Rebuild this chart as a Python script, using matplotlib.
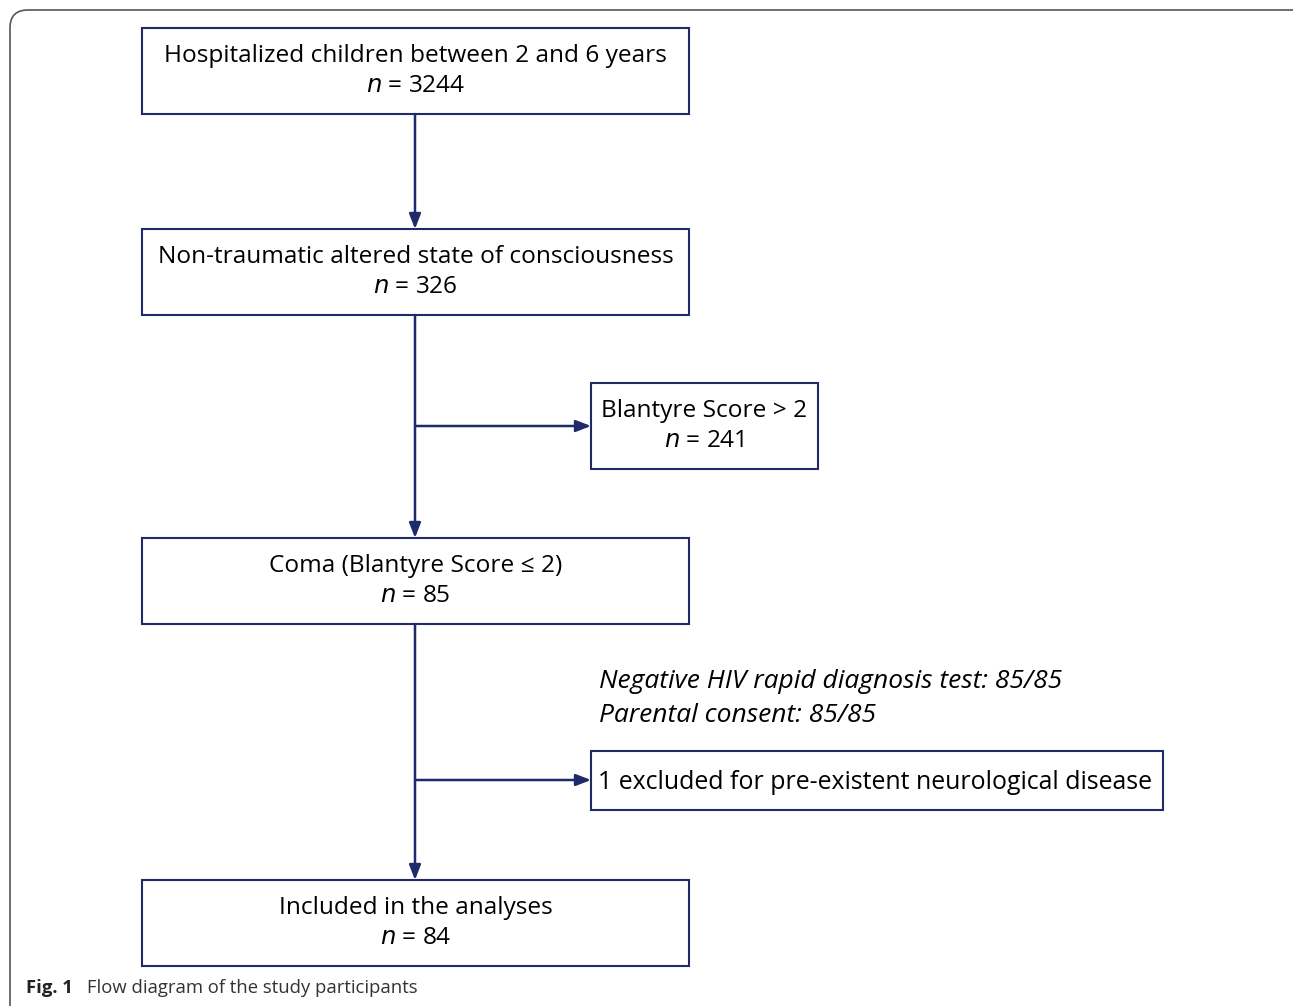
import matplotlib.pyplot as plt
from matplotlib.patches import Rectangle, FancyBboxPatch

# box geometry in picture pixels: (left, top, right, bottom)
boxes = [
    (142, 28, 689, 114),
    (142, 229, 689, 315),
    (591, 383, 818, 469),
    (142, 538, 689, 624),
    (591, 751, 1163, 810),
    (142, 880, 689, 966),
]
line1 = [
    "Hospitalized children between 2 and 6 years",
    "Non-traumatic altered state of consciousness",
    "Blantyre Score > 2",
    "Coma (Blantyre Score \u2264 2)",
    "1 excluded for pre-existent neurological disease",
    "Included in the analyses",
]
counts = ["3244", "326", "241", "85", None, "84"]
notes = ["Negative HIV rapid diagnosis test: 85/85", "Parental consent: 85/85"]

navy = "#1f2a6b"
font = "Open Sans"
fs = 17.6

fig = plt.figure(figsize=(12.93, 10.06), dpi=100)
ax = fig.add_axes([0, 0, 1, 1])
ax.set_xlim(0, 1293)
ax.set_ylim(1006, 0)
ax.axis("off")

# outer rounded frame
frame = FancyBboxPatch((10, 10), 1300, 1040, boxstyle="round,pad=0,rounding_size=18",
                       fill=False, ec="#555555", lw=1.2)
ax.add_patch(frame)

for (l, t, r, b), txt, n in zip(boxes, line1, counts):
    ax.add_patch(Rectangle((l, t), r - l, b - t, fill=False, ec=navy, lw=1.5))
    cx = (l + r) / 2
    if n is None:
        ax.text(cx - 2, (t + b) / 2 + 2, txt, ha="center", va="center", fontsize=17.9,
                family=font)
    else:
        ax.text(cx, t + 28, txt, ha="center", va="center", fontsize=fs, family=font)
        ax.text(cx, t + 58, "$\\it{n}$ = " + n, ha="center", va="center", fontsize=fs,
                family=font)

# connectors
xm = 415
arrow = dict(arrowstyle="-|>,head_length=0.9,head_width=0.35", color=navy, lw=1.8,
             shrinkA=0, shrinkB=0)
ax.annotate("", xy=(xm, 229), xytext=(xm, 114), arrowprops=arrow)
ax.annotate("", xy=(xm, 538), xytext=(xm, 315), arrowprops=arrow)
ax.annotate("", xy=(xm, 880), xytext=(xm, 624), arrowprops=arrow)
ax.annotate("", xy=(591, 426), xytext=(xm, 426), arrowprops=arrow)
ax.annotate("", xy=(591, 780), xytext=(xm, 780), arrowprops=arrow)

ax.text(599, 681, notes[0], ha="left", va="center", fontsize=19, style="italic", family=font)
ax.text(599, 715, notes[1], ha="left", va="center", fontsize=19, style="italic", family=font)

# caption
ax.text(26, 988, "Fig. 1", ha="left", va="center", fontsize=13.3, weight="bold", family=font,
        color="#222222")
ax.text(87, 988, "Flow diagram of the study participants", ha="left", va="center",
        fontsize=13.3, family=font, color="#333333")

fig.savefig("out.png", dpi=100)
